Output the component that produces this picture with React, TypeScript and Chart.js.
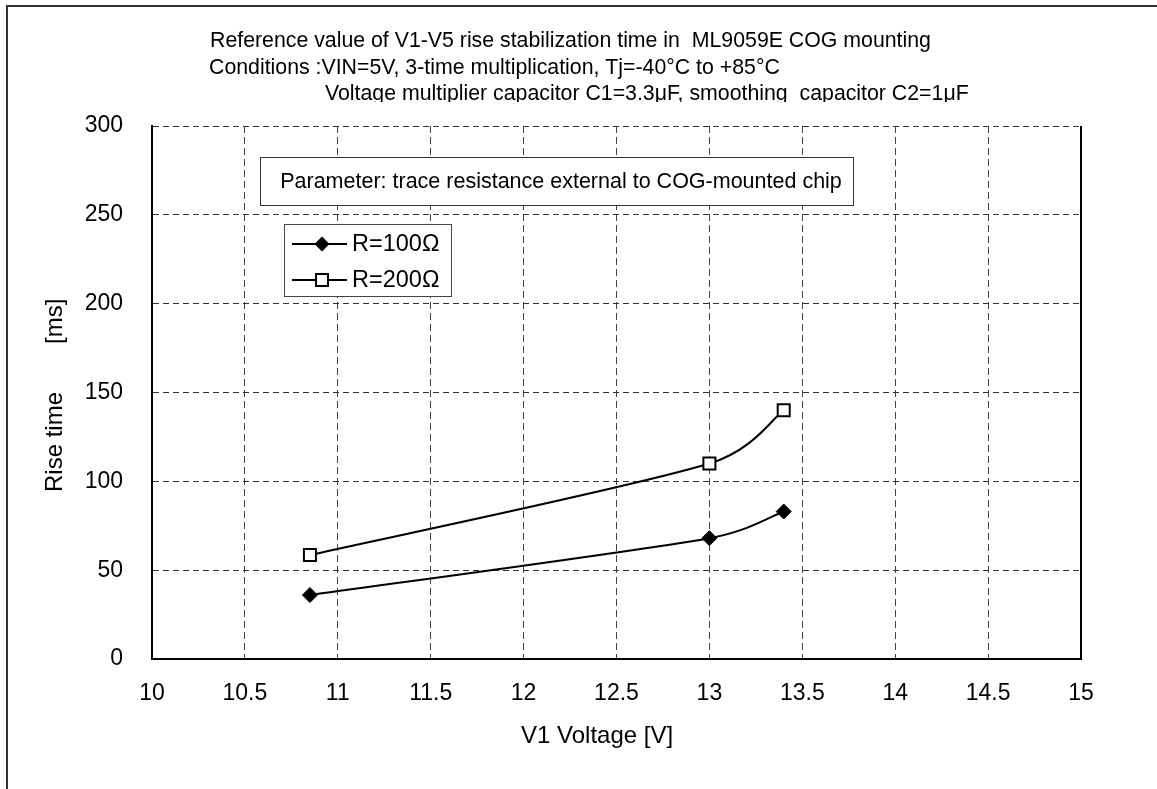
import React, { useEffect, useRef } from 'react';
import { Chart, registerables } from 'chart.js';

Chart.register(...registerables);

// ---- data ----
const seriesNames = ['R=100Ω', 'R=200Ω'];
const voltages = [10.85, 13.0, 13.4];
const r100Times = [36, 68, 83];
const r200Times = [58.5, 110, 140];
const xTickLabels = ['10', '10.5', '11', '11.5', '12', '12.5', '13', '13.5', '14', '14.5', '15'];
const yTickLabels = ['0', '50', '100', '150', '200', '250', '300'];
const titleLines = [
  'Reference value of V1-V5 rise stabilization time in  ML9059E COG mounting',
  'Conditions :VIN=5V, 3-time multiplication, Tj=-40°C to +85°C',
  'Voltage multiplier capacitor C1=3.3μF, smoothing  capacitor C2=1μF',
];
const annotationText = 'Parameter: trace resistance external to COG-mounted chip';
const xAxisTitle = 'V1 Voltage [V]';
const yAxisTitle = 'Rise time\u3000\u3000[ms]';

const FONT = '"Liberation Sans", Arial, "Noto Sans CJK JP", sans-serif';

// Excel-style smoothed line: Bezier control points from neighbours (1/6 rule, capped at half segment)
const excelSmooth = {
  id: 'excelSmooth',
  beforeDatasetDraw(chart: any, args: any) {
    const meta = args.meta;
    const line = meta.dataset;
    const pts = meta.data;
    if (!line || !pts || pts.length < 2) return;
    const n = pts.length;
    for (let i = 0; i < n - 1; i++) {
      const p1 = pts[i];
      const p2 = pts[i + 1];
      const p0 = i > 0 ? pts[i - 1] : p1;
      const p3 = i + 2 < n ? pts[i + 2] : p2;
      const d12 = Math.hypot(p2.x - p1.x, p2.y - p1.y);
      let ax = (p2.x - p0.x) / 6;
      let ay = (p2.y - p0.y) / 6;
      const la = Math.hypot(ax, ay);
      if (la > d12 / 2) {
        ax *= d12 / 2 / la;
        ay *= d12 / 2 / la;
      }
      let bx = (p3.x - p1.x) / 6;
      let by = (p3.y - p1.y) / 6;
      const lb = Math.hypot(bx, by);
      if (lb > d12 / 2) {
        bx *= d12 / 2 / lb;
        by *= d12 / 2 / lb;
      }
      p1.cp2x = p1.x + ax;
      p1.cp2y = p1.y + ay;
      p2.cp1x = p2.x - bx;
      p2.cp1y = p2.y - by;
    }
    pts[0].cp1x = pts[0].x;
    pts[0].cp1y = pts[0].y;
    pts[n - 1].cp2x = pts[n - 1].x;
    pts[n - 1].cp2y = pts[n - 1].y;
    line._pointsUpdated = true;
    line._path = undefined;
  },
};

const decorPlugin = {
  id: 'decor',
  afterDraw(chart: any) {
    const ctx = chart.ctx as CanvasRenderingContext2D;
    const area = chart.chartArea;
    ctx.save();

    // outer frame
    ctx.strokeStyle = '#333';
    ctx.lineWidth = 2;
    ctx.beginPath();
    ctx.moveTo(7, 789);
    ctx.lineTo(7, 6);
    ctx.lineTo(1157, 6);
    ctx.stroke();

    // right border of plot
    ctx.strokeStyle = '#000';
    ctx.lineWidth = 2;
    ctx.beginPath();
    ctx.moveTo(Math.round(area.right), area.top);
    ctx.lineTo(Math.round(area.right), area.bottom);
    ctx.stroke();

    // title lines (clipped text box)
    ctx.save();
    ctx.beginPath();
    ctx.rect(0, 0, 1157, 102);
    ctx.clip();
    ctx.fillStyle = '#000';
    ctx.font = `21.3px ${FONT}`;
    ctx.textBaseline = 'alphabetic';
    ctx.textAlign = 'left';
    const tx = [210, 209, 325];
    const ty = [47, 74, 100];
    titleLines.forEach((t, i) => ctx.fillText(t, tx[i], ty[i]));
    ctx.restore();

    // annotation box
    ctx.fillStyle = '#fff';
    ctx.fillRect(260, 157, 593, 48);
    ctx.strokeStyle = '#333';
    ctx.lineWidth = 1;
    ctx.strokeRect(260.5, 157.5, 593, 48);
    ctx.fillStyle = '#000';
    ctx.font = `21.5px ${FONT}`;
    ctx.textAlign = 'center';
    ctx.textBaseline = 'middle';
    ctx.fillText(annotationText, 561, 182);

    // legend box
    ctx.fillStyle = '#fff';
    ctx.fillRect(284, 224, 167, 72);
    ctx.strokeStyle = '#444';
    ctx.lineWidth = 1;
    ctx.strokeRect(284.5, 224.5, 167, 72);
    const ds = chart.data.datasets;
    const rows = [244, 280];
    ds.forEach((d: any, i: number) => {
      const y = rows[i];
      ctx.strokeStyle = '#000';
      ctx.lineWidth = 2;
      ctx.beginPath();
      ctx.moveTo(292, y);
      ctx.lineTo(347, y);
      ctx.stroke();
      ctx.beginPath();
      if (d.pointStyle === 'rectRot') {
        const r = 7.5;
        ctx.moveTo(322, y - r);
        ctx.lineTo(322 + r, y);
        ctx.lineTo(322, y + r);
        ctx.lineTo(322 - r, y);
        ctx.closePath();
        ctx.fillStyle = d.pointBackgroundColor;
        ctx.fill();
      } else {
        ctx.rect(316, y - 6, 12, 12);
        ctx.fillStyle = d.pointBackgroundColor;
        ctx.fill();
        ctx.lineWidth = 2;
        ctx.strokeStyle = d.pointBorderColor;
        ctx.stroke();
      }
      ctx.fillStyle = '#000';
      ctx.font = `23.5px ${FONT}`;
      ctx.textAlign = 'left';
      ctx.textBaseline = 'middle';
      ctx.fillText(d.label, 352, y + 1);
    });

    // axis titles
    ctx.fillStyle = '#000';
    ctx.font = `24px ${FONT}`;
    ctx.textAlign = 'left';
    ctx.textBaseline = 'alphabetic';
    ctx.fillText(xAxisTitle, 521, 743);

    ctx.save();
    ctx.translate(62, 492);
    ctx.rotate(-Math.PI / 2);
    ctx.fillText(yAxisTitle, 0, 0);
    ctx.restore();

    ctx.restore();
  },
};

export default function App() {
  const ref = useRef<HTMLCanvasElement | null>(null);
  useEffect(() => {
    if (!ref.current) return;
    const chart = new Chart(ref.current, {
      type: 'line',
      data: {
        datasets: [
          {
            label: seriesNames[0],
            data: voltages.map((v, i) => ({ x: v, y: r100Times[i] })),
            borderColor: '#000',
            backgroundColor: '#000',
            borderWidth: 2,
            pointStyle: 'rectRot',
            pointRadius: 7.5,
            pointBorderWidth: 1,
            pointBackgroundColor: '#000',
            pointBorderColor: '#000',
            tension: 0.4,
            fill: false,
          },
          {
            label: seriesNames[1],
            data: voltages.map((v, i) => ({ x: v, y: r200Times[i] })),
            borderColor: '#000',
            backgroundColor: '#fff',
            borderWidth: 2,
            pointStyle: 'rect',
            pointRadius: 8.5,
            pointBorderWidth: 2,
            pointBackgroundColor: '#fff',
            pointBorderColor: '#000',
            tension: 0.4,
            fill: false,
          },
        ],
      },
      options: {
        animation: false,
        responsive: false,
        layout: { padding: { top: 126, right: 76, left: 0, bottom: 0 } },
        plugins: {
          legend: { display: false },
          tooltip: { enabled: false },
          title: { display: false },
        },
        scales: {
          x: {
            type: 'linear',
            min: 10,
            max: 15,
            afterFit: (s: any) => {
              s.height = 130;
            },
            ticks: {
              stepSize: 0.5,
              color: '#000',
              font: { family: FONT, size: 23 },
              padding: 21,
              maxRotation: 0,
              autoSkip: false,
              callback: (_v: any, i: number) => xTickLabels[i],
            },
            grid: { color: '#444', lineWidth: 1, drawTicks: false },
            border: { display: true, color: '#000', width: 2, dash: [7, 4] },
          },
          y: {
            type: 'linear',
            min: 0,
            max: 300,
            afterFit: (s: any) => {
              s.width = 152;
            },
            ticks: {
              stepSize: 50,
              color: '#000',
              font: { family: FONT, size: 23 },
              padding: 29,
              callback: (_v: any, i: number) => yTickLabels[i],
            },
            grid: { color: '#333', lineWidth: 1, drawTicks: false },
            border: { display: true, color: '#000', width: 2, dash: [6, 4] },
          },
        },
      },
      plugins: [excelSmooth, decorPlugin],
    });
    return () => chart.destroy();
  }, []);
  return (
    <div style={{ position: 'fixed', left: 0, top: 0, width: 1157, height: 789, background: '#fff' }}>
      <canvas ref={ref} width={1157} height={789} style={{ display: 'block' }} />
    </div>
  );
}
